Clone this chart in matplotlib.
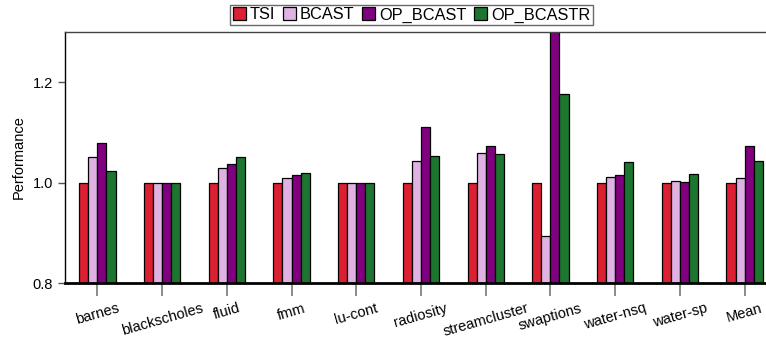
import numpy as np
import matplotlib
matplotlib.use('Agg')
import matplotlib.pyplot as plt

plt.rcParams['font.family'] = ['Liberation Sans', 'DejaVu Sans']

benchmarks = ['barnes', 'blackscholes', 'fluid', 'fmm', 'lu-cont', 'radiosity',
              'streamcluster', 'swaptions', 'water-nsq', 'water-sp', 'Mean']
series = ['TSI', 'BCAST', 'OP_BCAST', 'OP_BCASTR']
tsi = [1.0, 1.0, 1.0, 1.0, 1.0, 1.0, 1.0, 1.0, 1.0, 1.0, 1.0]
bcast = [1.052, 1.0, 1.030, 1.009, 1.0, 1.043, 1.060, 0.893, 1.012, 1.003, 1.010]
op_bcast = [1.079, 1.0, 1.037, 1.015, 1.0, 1.110, 1.072, 1.45, 1.016, 1.001, 1.072]
op_bcastr = [1.023, 1.0, 1.051, 1.020, 1.0, 1.054, 1.058, 1.176, 1.041, 1.018, 1.044]
colors = ['#dc1f32', '#e0b2e4', '#800080', '#1c7630']

fig = plt.figure(figsize=(7.66, 3.41), dpi=100)
ax = fig.add_axes([0.0849, 0.170, 0.915, 0.736])

x = np.arange(len(benchmarks))
w = 0.14
for i, (name, vals) in enumerate(zip(series, [tsi, bcast, op_bcast, op_bcastr])):
    ax.bar(x + (i - 1.5) * w, np.array(vals) - 0.8, w, bottom=0.8,
           color=colors[i], edgecolor='black', linewidth=0.9, label=name)

ax.set_xlim(-0.5, 10.33)
ax.set_ylim(0.8, 1.3)
ax.set_yticks([0.8, 1.0, 1.2])
ax.set_yticklabels(['0.8', '1.0', '1.2'], fontsize=10.5)
ax.set_xticks(x)
ax.set_xticklabels(benchmarks, rotation=16, fontsize=10.5, ha='center')
ax.tick_params(axis='x', length=9, color='#777777', width=1.2, pad=4)
ax.tick_params(axis='y', length=5, color='#555555', width=1.0)
ax.set_ylabel('Performance', fontsize=10.5, labelpad=5)

ax.spines['bottom'].set_linewidth(2.0)
ax.spines['left'].set_linewidth(1.0)
ax.spines['top'].set_linewidth(1.0)
ax.spines['top'].set_color('#444444')
ax.spines['right'].set_visible(False)

leg = fig.legend(loc='upper center', bbox_to_anchor=(0.537, 1.0), ncol=4,
                 fontsize=11.8, frameon=True, fancybox=False, handlelength=0.8,
                 handleheight=0.8, handletextpad=0.25, columnspacing=0.45,
                 borderpad=0.15, borderaxespad=0.3)
leg.get_frame().set_edgecolor('#444444')
leg.get_frame().set_linewidth(1.0)

fig.savefig('out.png', dpi=100)
